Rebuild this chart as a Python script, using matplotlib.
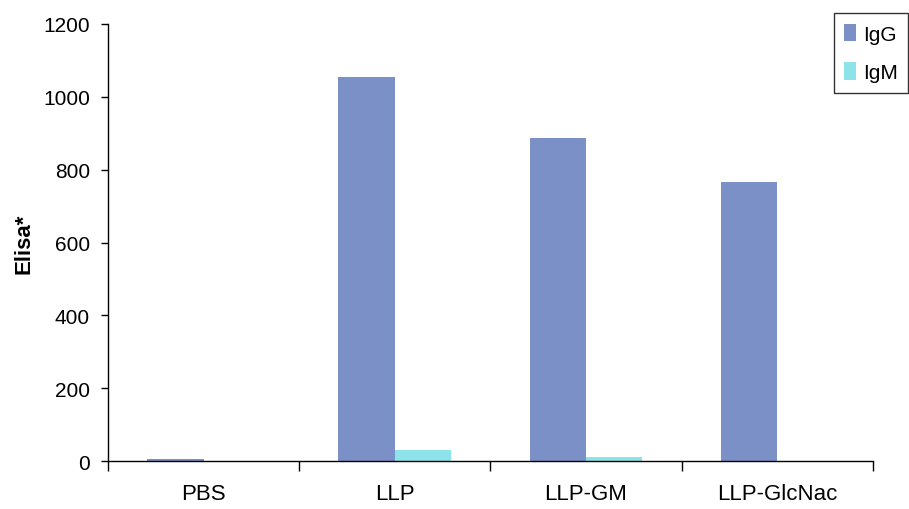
import matplotlib.pyplot as plt
import numpy as np

plt.rcParams['font.family'] = ['Liberation Sans', 'DejaVu Sans']

categories = ['PBS', 'LLP', 'LLP-GM', 'LLP-GlcNac']
igg = [6, 1054, 887, 766]
igm = [0, 30, 10, 0]
yticks = [0, 200, 400, 600, 800, 1000, 1200]

fig = plt.figure(figsize=(9.09, 5.10), dpi=100)
ax = fig.add_axes([0.119, 0.094, 0.841, 0.857])

x = np.arange(len(categories))
w = 0.295
ax.bar(x - w / 2, igg, w, color='#7b90c6', label='IgG')
ax.bar(x + w / 2, igm, w, color='#8ce4ea', label='IgM')

ax.set_xlim(-0.5, len(categories) - 0.5)
ax.set_ylim(0, 1200)
ax.set_yticks(yticks)
ax.set_xticks(x)
ax.set_xticklabels(categories)
ax.set_xticks(np.arange(-0.5, len(categories)), minor=True)
ax.tick_params(axis='x', which='major', length=0, pad=16, labelsize=16)
ax.tick_params(axis='x', which='minor', length=7, direction='out', width=1)
ax.tick_params(axis='y', length=5, width=1, labelsize=15, pad=8)
ax.set_ylabel('Elisa*', fontsize=16, fontweight='bold', labelpad=6)

for s in ['top', 'right']:
    ax.spines[s].set_visible(False)
for s in ['left', 'bottom']:
    ax.spines[s].set_linewidth(1)

fig.legend(loc='upper left', bbox_to_anchor=(0.917, 0.972), borderaxespad=0,
           fontsize=15, frameon=True, fancybox=False, edgecolor='black',
           handlelength=0.6, handleheight=0.9, handletextpad=0.3,
           labelspacing=0.9, borderpad=0.5)

fig.savefig('out.png', dpi=100)
